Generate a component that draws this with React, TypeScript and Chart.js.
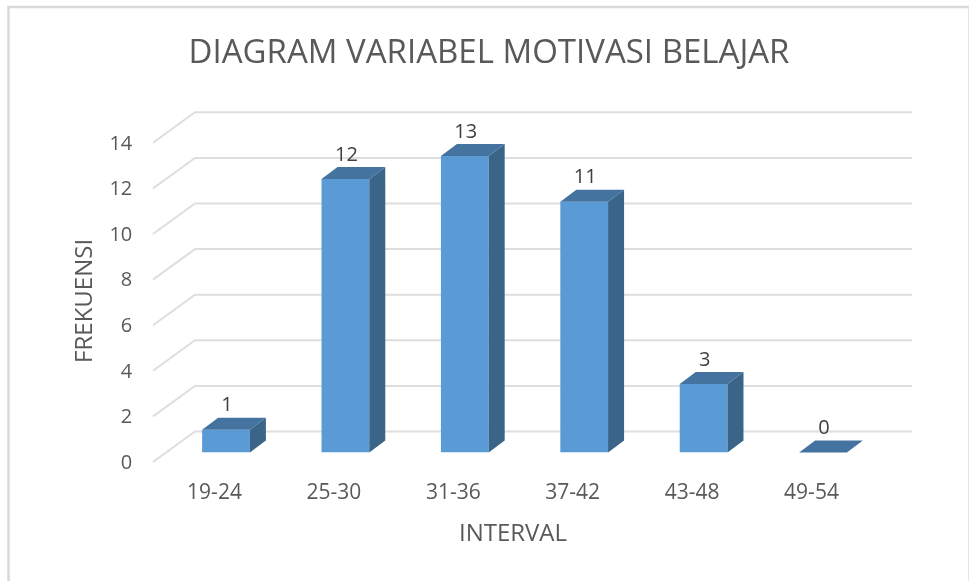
import React, { useEffect, useRef } from "react";
import { Chart, registerables } from "chart.js";

Chart.register(...registerables);

const categories = ["19-24", "25-30", "31-36", "37-42", "43-48", "49-54"];
const frekuensi = [1, 12, 13, 11, 3, 0];
const yTicks = [0, 2, 4, 6, 8, 10, 12, 14];
const titleText = "DIAGRAM VARIABEL MOTIVASI BELAJAR";
const xTitle = "INTERVAL";
const yTitle = "FREKUENSI";

const FRONT = "#5b9bd5";
const TOP = "#44739f";
const SIDE = "#3a6488";
const GRID = "#dedede";
const TEXT = "#595959";
const LABEL = "#404040";
const FONT = "'Open Sans', sans-serif";

const depthX = 16;
const depthY = 12;

const shiftTitle = (s: any, dx: number, dy: number) => {
  if (s.__shifted) return;
  s.__shifted = true;
  const orig = s.drawTitle;
  s.drawTitle = function (...args: any[]) {
    const c = this.ctx;
    c.save();
    c.translate(dx, dy);
    orig.apply(this, args);
    c.restore();
  };
};

const box3d = {
  id: "box3d",
  beforeDatasetsDraw(chart: any) {
    const { ctx } = chart;
    const y = chart.scales.y;
    ctx.save();
    ctx.strokeStyle = GRID;
    ctx.lineWidth = 2;
    ctx.beginPath();
    y.ticks.forEach((t: any) => {
      const p = y.getPixelForValue(t.value);
      ctx.moveTo(153, p + 9.5);
      ctx.lineTo(195, p - 21);
      ctx.lineTo(912, p - 21);
    });
    ctx.stroke();
    // outer frame, open at the bottom
    ctx.strokeStyle = "#d9d9d9";
    ctx.lineWidth = 2.5;
    ctx.beginPath();
    ctx.moveTo(8.5, 581);
    ctx.lineTo(8.5, 7);
    ctx.lineTo(969, 7);
    ctx.stroke();
    ctx.strokeStyle = "#e6e6e6";
    ctx.lineWidth = 1;
    ctx.beginPath();
    ctx.moveTo(968.5, 7);
    ctx.lineTo(968.5, 581);
    ctx.stroke();
    ctx.restore();
  },
  afterDatasetsDraw(chart: any) {
    const { ctx } = chart;
    const meta = chart.getDatasetMeta(0);
    ctx.save();
    meta.data.forEach((bar: any, i: number) => {
      const left = bar.x - bar.width / 2;
      const right = bar.x + bar.width / 2;
      const top = bar.y;
      const base = bar.base;
      if (base - top > 0) {
        ctx.fillStyle = SIDE;
        ctx.beginPath();
        ctx.moveTo(right, top);
        ctx.lineTo(right + depthX, top - depthY);
        ctx.lineTo(right + depthX, base - depthY);
        ctx.lineTo(right, base);
        ctx.closePath();
        ctx.fill();
      }
      ctx.fillStyle = TOP;
      ctx.beginPath();
      ctx.moveTo(left, top);
      ctx.lineTo(left + depthX, top - depthY);
      ctx.lineTo(right + depthX, top - depthY);
      ctx.lineTo(right, top);
      ctx.closePath();
      ctx.fill();
      ctx.fillStyle = LABEL;
      ctx.font = "20px " + FONT;
      ctx.textAlign = "center";
      ctx.textBaseline = "middle";
      ctx.fillText(String(frekuensi[i]), bar.x + 1, top - 24);
    });
    ctx.restore();
  },
};

export default function App() {
  const ref = useRef<HTMLCanvasElement>(null);
  useEffect(() => {
    const chart = new Chart(ref.current!, {
      type: "bar",
      data: {
        labels: categories,
        datasets: [
          {
            label: yTitle,
            data: frekuensi,
            backgroundColor: FRONT,
            borderWidth: 0,
            barPercentage: 0.4,
            categoryPercentage: 1,
          },
        ],
      },
      options: {
        responsive: false,
        animation: false,
        layout: { padding: { left: 9, right: 0, top: 0, bottom: 0 } },
        plugins: {
          legend: { display: false },
          tooltip: { enabled: false },
          title: {
            display: true,
            text: titleText,
            color: TEXT,
            font: { family: FONT, size: 33, weight: "normal" },
            padding: { top: 34, bottom: 59.7 },
          },
        },
        scales: {
          x: {
            grid: { display: false },
            border: { display: false },
            ticks: {
              color: TEXT,
              font: { family: FONT, size: 21 },
              padding: 20,
              labelOffset: -11.5,
              maxRotation: 0,
            },
            title: {
              display: true,
              text: xTitle,
              color: TEXT,
              font: { family: FONT, size: 24 },
              padding: { top: 0, bottom: 32 },
            },
            afterFit: (s: any) => {
              s.height = 581 - 452.5;
              shiftTitle(s, -11.5, 0);
            },
          },
          y: {
            min: 0,
            max: 14,
            afterBuildTicks: (s: any) => {
              s.ticks = yTicks.map((value) => ({ value }));
            },
            grid: { display: false },
            border: { display: false },
            ticks: {
              color: TEXT,
              font: { family: FONT, size: 20 },
              padding: 26,
              labelOffset: 10.5,
            },
            title: {
              display: true,
              text: yTitle,
              color: TEXT,
              font: { family: FONT, size: 24 },
              padding: { top: 61.6, bottom: 0 },
            },
            afterFit: (s: any) => {
              s.width = 157.3;
              shiftTitle(s, 0, 8);
            },
          },
          y1: {
            position: "right",
            display: true,
            grid: { display: false },
            border: { display: false },
            ticks: { display: false },
            afterFit: (s: any) => {
              s.width = 86.3;
            },
          },
        },
      },
      plugins: [box3d],
    } as any);
    return () => chart.destroy();
  }, []);
  return (
    <canvas
      ref={ref}
      width={969}
      height={581}
      style={{ position: "fixed", left: 0, top: 0, background: "#fff" }}
    />
  );
}
